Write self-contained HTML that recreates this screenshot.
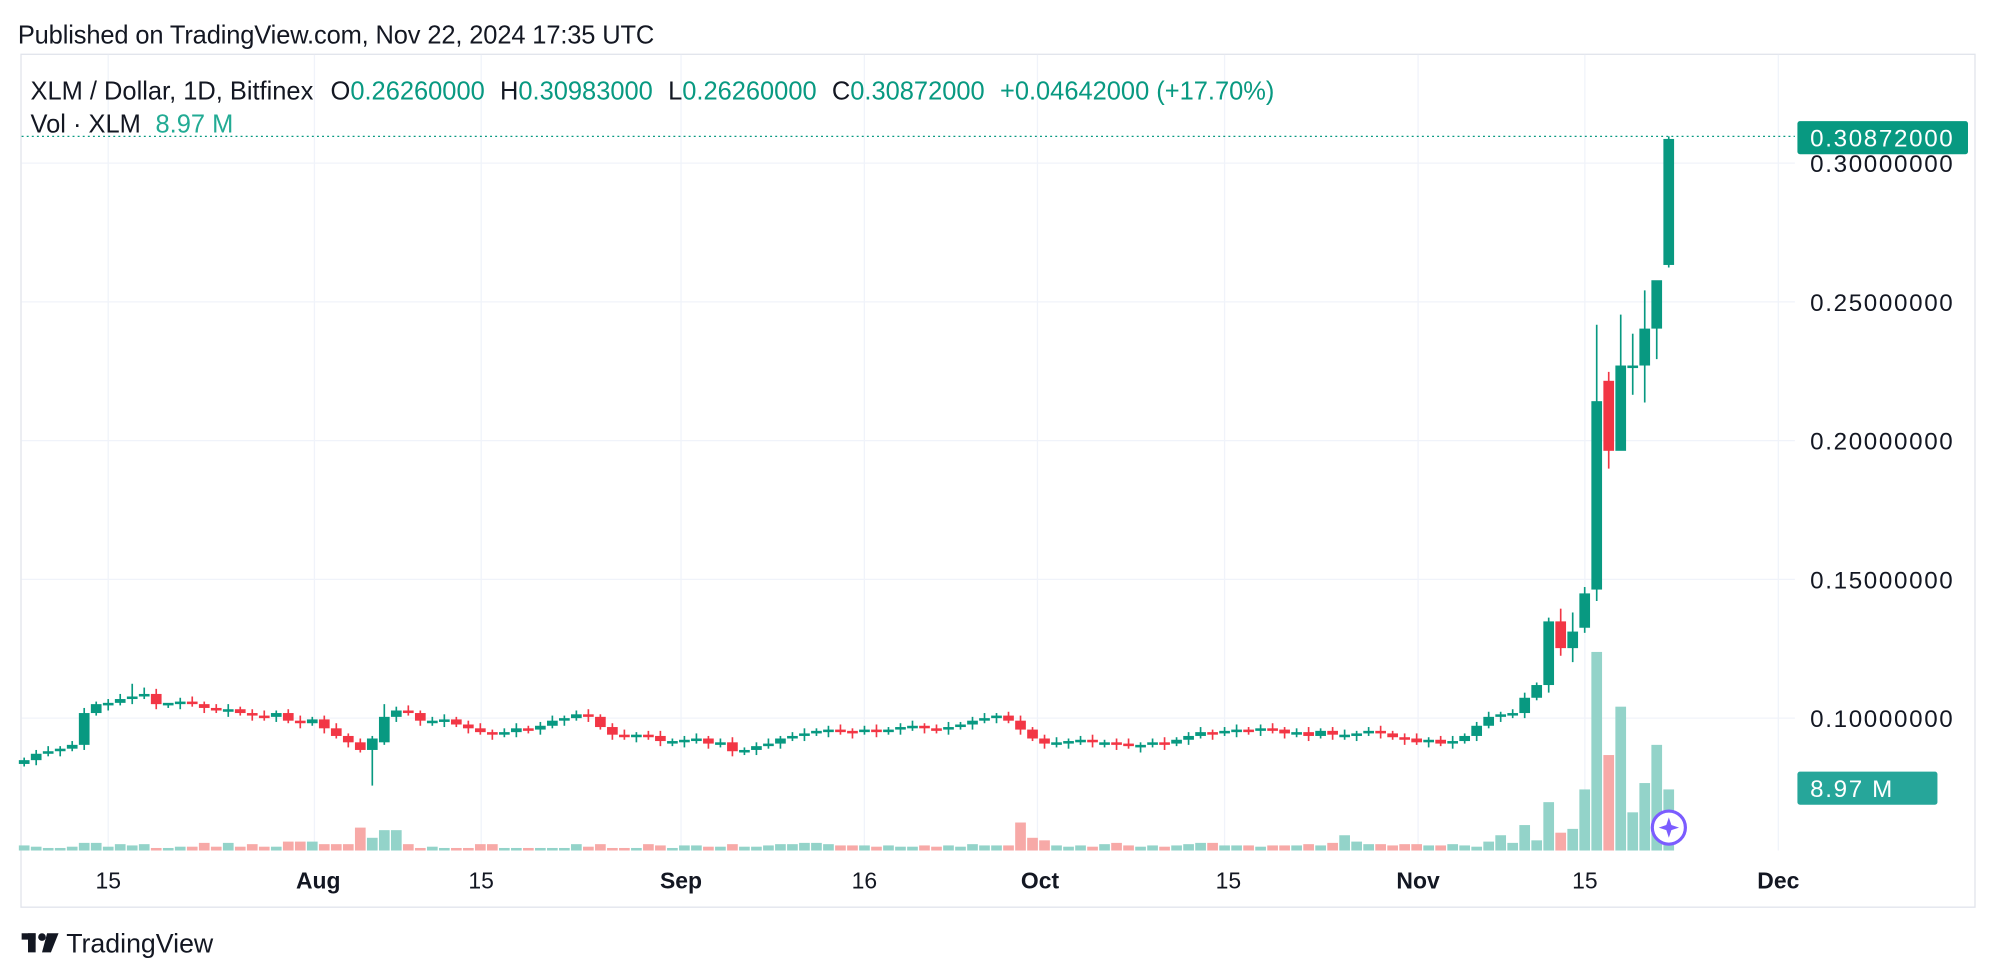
<!DOCTYPE html>
<html><head><meta charset="utf-8"><style>
html,body{margin:0;padding:0;background:#fff;}
svg{display:block;}
text{font-family:"Liberation Sans",sans-serif;}
</style></head><body>
<svg id="c" width="1996" height="978" viewBox="0 0 1568 768" xmlns="http://www.w3.org/2000/svg">
<rect width="1568" height="768" fill="#fff"/>
<text x="14" y="34" font-size="20" fill="#131722" textLength="500">Published on TradingView.com, Nov 22, 2024 17:35 UTC</text>
<rect x="16.5" y="42.5" width="1535" height="670" fill="none" stroke="#e0e3eb"/>
<g id="grid" stroke="#f0f3fa" stroke-width="1"></g>
<line x1="17" y1="107" x2="1410" y2="107" stroke="#089981" stroke-dasharray="1.5,2.5"/>
<g id="vol"></g>
<g id="cand"></g>
<g font-size="19" fill="#131722">
<text x="1422" y="135" letter-spacing="1.3">0.30000000</text>
<text x="1422" y="244" letter-spacing="1.3">0.25000000</text>
<text x="1422" y="353" letter-spacing="1.3">0.20000000</text>
<text x="1422" y="462" letter-spacing="1.3">0.15000000</text>
<text x="1422" y="571" letter-spacing="1.3">0.10000000</text>
</g>
<rect x="1412" y="95" width="134" height="26" rx="2" fill="#089981"/>
<text x="1422" y="115" font-size="19" fill="#fff" letter-spacing="1.3">0.30872000</text>
<rect x="1412" y="606" width="110" height="26" rx="2" fill="#26a69a"/>
<text x="1422" y="626" font-size="19" fill="#fff" letter-spacing="1.3">8.97 M</text>
<g font-size="18" fill="#131722" text-anchor="middle">
<text x="85" y="698">15</text>
<text x="250" y="698" font-weight="bold">Aug</text>
<text x="378" y="698">15</text>
<text x="535" y="698" font-weight="bold">Sep</text>
<text x="679" y="698">16</text>
<text x="817" y="698" font-weight="bold">Oct</text>
<text x="965" y="698">15</text>
<text x="1114" y="698" font-weight="bold">Nov</text>
<text x="1245" y="698">15</text>
<text x="1397" y="698" font-weight="bold">Dec</text>
</g>
<text x="24" y="78" font-size="20" fill="#131722">XLM / Dollar, 1D, Bitfinex <tspan dx="8">O</tspan><tspan fill="#089981">0.26260000</tspan><tspan dx="12">H</tspan><tspan fill="#089981">0.30983000</tspan><tspan dx="12">L</tspan><tspan fill="#089981">0.26260000</tspan><tspan dx="12">C</tspan><tspan fill="#089981">0.30872000</tspan><tspan dx="12" fill="#089981">+0.04642000 (+17.70%)</tspan></text>
<text x="24" y="104" font-size="20" fill="#131722">Vol · XLM <tspan dx="6" fill="#22ab94">8.97 M</tspan></text>
<circle cx="1311" cy="650" r="13" fill="#fff" stroke="#7b5cff" stroke-width="2.5"/>
<path d="M1311 642 L1313 648 L1319 650 L1313 652 L1311 658 L1309 652 L1303 650 L1309 648 Z" fill="#7b5cff"/>
<g fill="#131722">
<rect x="17" y="733" width="11" height="5"/><rect x="22" y="733" width="6" height="15"/>
<circle cx="33" cy="736" r="3"/><path d="M37 733 L46 733 L40 748 L33 748 Z"/>
</g>
<text x="52" y="748" font-size="21" fill="#131722">TradingView</text>
</svg>
<script>
(function(){
var NS="http://www.w3.org/2000/svg";
function el(p,t,a){var e=document.createElementNS(NS,t);for(var k in a)e.setAttribute(k,a[k]);p.appendChild(e);return e;}
var grid=document.getElementById('grid');
[564,455,346,237,128].forEach(function(y){el(grid,'line',{x1:17,x2:1410,y1:y,y2:y});});
[85,247,378,535,679,815,962,1114,1245,1397].forEach(function(x){el(grid,'line',{x1:x,x2:x,y1:43,y2:668});});
var C=[597,592,590,588,585,560,553,552,549,547,545,553,552,551,553,556,558,557,560,562,563,560,566,568,565,572,578,583,589,580,563,558,560,566,566,565,569,572,575,576,575,572,573,570,566,564,561,563,571,577,578,577,578,582,582,581,580,584,583,590,589,586,584,580,578,576,574,573,574,575,573,574,573,571,570,572,573,571,569,566,564,562,566,573,580,584,583,582,581,583,583,584,586,585,583,584,581,578,575,576,574,573,574,572,573,576,575,578,574,577,577,576,574,576,579,580,583,581,584,582,578,570,563,561,560,548,538,488,509,496,466,315,354,287,287,258,220,109];
var O={130:493,131:463,132:299,133:354,134:288,135:287,136:258,137:208,29:589,30:583};
var H={128:478,131:255,132:292,133:247,134:262,135:228,136:222,137:107,129:481,130:461,29:578,30:553,12:553,10:540,9:537};
var L={29:617,130:497,131:472,132:368,133:291,134:310,135:316,136:282,137:210,128:515,129:520,127:544};
var V=[4,3,2,2,3,6,6,3,5,4,5,2,2,3,3,6,3,6,3,5,3,3,7,7,7,5,5,5,18,10,16,16,5,2,3,2,2,2,5,5,2,2,2,2,2,2,5,3,5,2,2,2,5,4,2,4,4,3,3,5,3,3,4,5,5,6,6,5,4,4,4,3,4,3,3,4,3,4,3,5,4,4,4,22,10,8,4,3,4,3,5,6,4,3,4,3,4,5,6,6,4,4,4,3,4,4,4,5,4,6,12,7,5,5,4,5,5,4,4,5,4,3,7,12,6,20,8,38,14,17,48,156,75,113,30,53,83,48];
var vg=document.getElementById('vol'),cg=document.getElementById('cand');
for(var i=0;i<C.length;i++){
 var x=19+i*9.43;
 var o=(O[i]!==undefined)?O[i]:(i?C[i-1]:600);
 var c=C[i];
 var up=c<=o;
 var col=up?'#089981':'#f23645';
 var bt=Math.min(o,c),bb=Math.max(o,c);
 if(bb-bt<2){bb=bt+2;}
 var h=(H[i]!==undefined)?H[i]:bt-2-(i%3);
 var l=(L[i]!==undefined)?L[i]:bb+2+(i%2)*2;
 el(cg,'line',{x1:x,x2:x,y1:h,y2:l,stroke:col,'stroke-width':1.3});
 el(cg,'rect',{x:x-4.2,y:bt,width:8.4,height:bb-bt,fill:col});
 var v=V[i]||3;
 el(vg,'rect',{x:x-4.2,y:668-v,width:8.4,height:v,fill:up?'#93d3c9':'#f7a9a7'});
}
})();
</script>
</body></html>
